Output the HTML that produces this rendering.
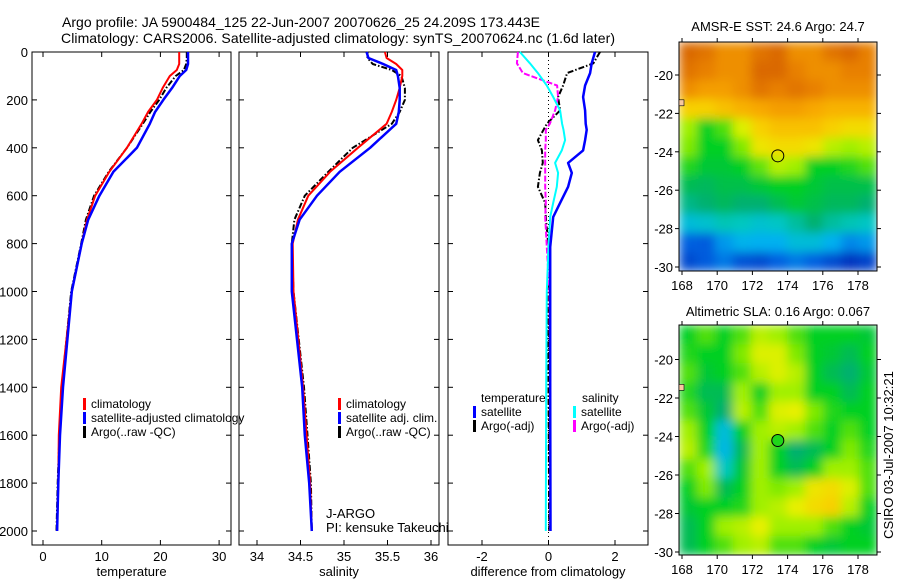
<!DOCTYPE html>
<html><head><meta charset="utf-8"><style>
html,body{margin:0;padding:0;background:#fff;}
svg{display:block;font-family:"Liberation Sans",sans-serif;}
</style></head><body>
<svg id="fig" width="900" height="580" viewBox="0 0 900 580" xmlns="http://www.w3.org/2000/svg">
<defs>
<filter id="blur" x="0" y="0" width="1" height="1"><feGaussianBlur stdDeviation="5" edgeMode="duplicate"/></filter>
<clipPath id="clip1"><rect x="679" y="42" width="198" height="229"/></clipPath>
<clipPath id="clip2"><rect x="679" y="325" width="198" height="230"/></clipPath>
</defs>
<text x="62" y="27" font-size="14" textLength="478">Argo profile: JA 5900484_125 22-Jun-2007 20070626_25 24.209S 173.443E</text>
<text x="61" y="43" font-size="14" textLength="554">Climatology: CARS2006. Satellite-adjusted climatology: synTS_20070624.nc (1.6d later)</text>
<g id="g"></g>
</svg>
<script>
// ---- profile data ----
const depths=[0,25,50,75,100,150,200,250,300,400,500,600,700,800,1000,1400,1600,1800,2000];
const tempClim=[23.2,23.2,23.2,22.8,21.6,20.4,19.4,17.9,16.8,14.3,11.3,8.9,7.5,6.6,4.9,3.1,2.7,2.6,2.4];
const tempSat=[24.7,24.7,24.7,24.4,23.3,22.0,20.5,19.1,18.2,16.0,12.0,9.6,7.7,6.6,4.9,3.4,2.9,2.6,2.4];
const tempArgo=[24.5,24.5,24.4,24.0,22.6,21.0,19.8,18.3,17.0,14.3,11.2,8.7,7.3,6.5,4.8,3.2,2.8,2.5,2.3];
const salClim=[35.47,35.49,35.6,35.67,35.67,35.64,35.6,35.55,35.49,35.16,34.84,34.59,34.47,34.41,34.42,34.53,34.57,34.61,34.63];
const salSat=[35.26,35.28,35.45,35.6,35.62,35.64,35.64,35.63,35.6,35.3,34.95,34.69,34.49,34.4,34.4,34.52,34.55,34.6,34.63];
const salArgo=[35.27,35.27,35.33,35.55,35.66,35.7,35.7,35.64,35.55,35.1,34.82,34.55,34.43,34.4,34.42,34.54,34.58,34.62,34.63];
const diffDepths=[0,47,88,140,188,244,300,325,368,411,463,505,563,630,689,814,1000,1400,2000];
const diffTempSat=[1.4,1.3,1.25,1.1,1.04,1.1,1.12,1.15,1.1,1.04,0.59,0.7,0.59,0.35,0.14,0.05,0.05,0.05,0.06];
const diffSalSat=[-0.86,-0.56,-0.32,-0.05,0.14,0.35,0.41,0.45,0.5,0.4,0.2,0.29,0.25,0.14,0.05,0.0,-0.05,-0.07,-0.08];
const diffTempArgo=[1.55,1.35,0.56,0.44,0.29,0.35,-0.05,-0.15,-0.32,-0.2,-0.17,-0.26,-0.32,-0.1,-0.08,0.0,-0.02,0.0,0.02];
const diffSalArgo=[-0.92,-0.95,-0.77,0.26,0.29,0.2,0.04,-0.08,-0.08,-0.1,-0.1,-0.1,-0.1,-0.08,-0.1,-0.05,0.03,0.05,0.05];
const depthTicks=[0,200,400,600,800,1000,1200,1400,1600,1800,2000];
const tempTicks=[0,10,20,30];
const salTicks=[34,34.5,35,35.5,36];
const salTickLabels=["34","34.5","35","35.5","36"];
const diffTicks=[-2,0,2];
// ---- map data (rows north->south, cols west->east) ----
const lonTicks=[168,170,172,174,176,178];
const latTicks=[-20,-22,-24,-26,-28,-30];
const sstGrid=[
[0.92,0.9,0.85,0.85,0.9,0.92,0.85,0.85,0.9,0.92,0.88],
[0.9,0.88,0.85,0.85,0.92,0.92,0.88,0.85,0.85,0.88,0.88],
[0.85,0.82,0.82,0.85,0.9,0.88,0.9,0.88,0.85,0.85,0.85],
[0.72,0.72,0.75,0.78,0.8,0.82,0.82,0.8,0.78,0.78,0.78],
[0.6,0.5,0.55,0.65,0.72,0.75,0.75,0.75,0.72,0.7,0.7],
[0.58,0.5,0.5,0.58,0.68,0.7,0.7,0.68,0.62,0.6,0.62],
[0.52,0.48,0.48,0.5,0.56,0.62,0.6,0.5,0.5,0.52,0.55],
[0.45,0.44,0.46,0.46,0.48,0.5,0.5,0.48,0.46,0.46,0.46],
[0.4,0.42,0.44,0.42,0.42,0.45,0.48,0.46,0.44,0.44,0.42],
[0.3,0.32,0.36,0.35,0.32,0.34,0.38,0.42,0.38,0.36,0.34],
[0.15,0.14,0.22,0.26,0.25,0.25,0.3,0.3,0.25,0.2,0.22],
[0.1,0.14,0.18,0.12,0.1,0.15,0.18,0.15,0.1,0.05,0.08]];
const slaGrid=[
[0.5,0.55,0.5,0.55,0.62,0.6,0.55,0.5,0.5,0.5,0.48],
[0.52,0.5,0.5,0.58,0.65,0.65,0.58,0.5,0.48,0.45,0.5],
[0.55,0.48,0.5,0.55,0.62,0.65,0.62,0.5,0.45,0.42,0.48],
[0.52,0.45,0.45,0.6,0.5,0.6,0.6,0.5,0.5,0.45,0.5],
[0.55,0.48,0.42,0.62,0.55,0.65,0.66,0.58,0.52,0.5,0.5],
[0.6,0.5,0.3,0.5,0.6,0.62,0.6,0.55,0.5,0.55,0.5],
[0.62,0.52,0.28,0.45,0.6,0.5,0.42,0.45,0.5,0.58,0.52],
[0.55,0.6,0.35,0.48,0.6,0.5,0.45,0.5,0.6,0.6,0.55],
[0.5,0.58,0.45,0.5,0.6,0.58,0.6,0.68,0.7,0.65,0.55],
[0.48,0.5,0.5,0.52,0.6,0.62,0.66,0.7,0.72,0.62,0.5],
[0.45,0.5,0.6,0.62,0.66,0.6,0.6,0.6,0.55,0.5,0.48],
[0.45,0.5,0.55,0.6,0.62,0.55,0.55,0.5,0.48,0.5,0.5]];
const argoLon=173.443, argoLat=-24.209;

const NS="http://www.w3.org/2000/svg";
const G=document.getElementById('g');
function el(t,a,p){const e=document.createElementNS(NS,t);for(const k in a)e.setAttribute(k,a[k]);(p||G).appendChild(e);return e;}
const yD=d=>52+d*0.2395;
const xT=v=>43+v*5.87;
const xS=v=>257+(v-34)*87;
const xDf=v=>548.5+v*33.25;

function frame(x0,x1,name,xs,xticks,xlabels,xtitle,showY){
  const r=el('rect',{x:x0,y:52,width:x1-x0,height:493,fill:'none',stroke:'#000','stroke-width':1});
  
  
  depthTicks.forEach(d=>{
    const y=yD(d);
    el('line',{x1:x0,x2:x0+5,y1:y,y2:y,stroke:'#000'});
    el('line',{x1:x1-5,x2:x1,y1:y,y2:y,stroke:'#000'});
    if(showY){const t=el('text',{x:x0-4,y:y+5,'font-size':13,'text-anchor':'end'});t.textContent=d;
      
      }
  });
  xticks.forEach((v,i)=>{
    const x=xs(v);
    el('line',{x1:x,x2:x,y1:52,y2:57,stroke:'#000'});
    el('line',{x1:x,x2:x,y1:540,y2:545,stroke:'#000'});
    const t=el('text',{x:x,y:561,'font-size':13,'text-anchor':'middle'});t.textContent=xlabels[i];
    
    
  });
  const tt=el('text',{x:(x0+x1)/2,y:576,'font-size':13,'text-anchor':'middle'});tt.textContent=xtitle;
  
  
}
function line(xs,vals,ds,color,w,dash,name){
  const pts=vals.map((v,i)=>xs(v).toFixed(1)+','+yD(ds[i]).toFixed(1)).join(' ');
  const p=el('polyline',{points:pts,fill:'none',stroke:color,'stroke-width':w,'stroke-linejoin':'round'});
  if(dash)p.setAttribute('stroke-dasharray',dash);
  
  
}
function legend(x,y,color,label,name){
  el('rect',{x:x,y:y-10,width:3,height:12,fill:color});
  const t=el('text',{x:x+8,y:y,'font-size':12});t.textContent=label;
  
  
}
// panel 1
frame(32,231,'temperature-panel',xT,tempTicks,tempTicks.map(String),'temperature',true);
line(xT,tempArgo,depths,'#000',2,'6,2,1.5,2','temp-argo-line');
line(xT,tempClim,depths,'#ff0000',2,null,'temp-climatology-line');
line(xT,tempSat,depths,'#0000ff',2.5,null,'temp-satellite-line');
legend(83,408,'#ff0000','climatology','legend-climatology');
legend(83,422,'#0000ff','satellite-adjusted climatology','legend-satellite-adjusted');
legend(83,436,'#000','Argo(..raw -QC)','legend-argo-raw');
// panel 2
frame(239,439,'salinity-panel',xS,salTicks,salTickLabels,'salinity',false);
line(xS,salArgo,depths,'#000',2,'6,2,1.5,2','sal-argo-line');
line(xS,salClim,depths,'#ff0000',2,null,'sal-climatology-line');
line(xS,salSat,depths,'#0000ff',2.5,null,'sal-satellite-line');
legend(338,408,'#ff0000','climatology','legend2-climatology');
legend(338,422,'#0000ff','satellite adj. clim.','legend2-satellite');
legend(338,436,'#000','Argo(..raw -QC)','legend2-argo');
{const a=el('text',{x:326,y:518,'font-size':13});a.textContent='J-ARGO';


const b=el('text',{x:326,y:532,'font-size':13});b.textContent='PI: kensuke Takeuchi';

}
// panel 3
frame(448,648,'difference-panel',xDf,diffTicks,diffTicks.map(String),'difference from climatology',false);
el('line',{x1:xDf(0),x2:xDf(0),y1:52,y2:545,stroke:'#000','stroke-dasharray':'1,3'});
line(xDf,diffTempArgo,diffDepths,'#000',2,'6,2,1.5,2','diff-temp-argo-line');
line(xDf,diffSalArgo,diffDepths,'#ff00ff',2,'6,2','diff-sal-argo-line');
line(xDf,diffSalSat,diffDepths,'#00ffff',2,null,'diff-sal-satellite-line');
line(xDf,diffTempSat,diffDepths,'#0000ff',2.5,null,'diff-temp-satellite-line');
{const t=el('text',{x:481,y:402,'font-size':12});t.textContent='temperature';


const s=el('text',{x:582,y:402,'font-size':12});s.textContent='salinity';

}
legend(473,416,'#0000ff','satellite','legend3-temp-satellite');
legend(473,430,'#000','Argo(-adj)','legend3-temp-argo');
legend(573,416,'#00ffff','satellite','legend3-sal-satellite');
legend(573,430,'#ff00ff','Argo(-adj)','legend3-sal-argo');

// ---- maps ----
const stops=[[0,[0,32,176]],[0.15,[0,96,224]],[0.25,[0,176,240]],[0.35,[0,200,192]],[0.42,[0,176,112]],[0.5,[0,208,32]],[0.6,[160,240,0]],[0.66,[232,240,0]],[0.72,[248,208,0]],[0.8,[248,168,0]],[0.88,[232,128,0]],[0.95,[208,88,0]],[1,[190,70,0]]];
function cmap(t){for(let i=1;i<stops.length;i++){if(t<=stops[i][0]){const a=stops[i-1],b=stops[i];const f=(t-a[0])/(b[0]-a[0]);const c=a[1].map((v,k)=>Math.round(v+(b[1][k]-v)*f));return 'rgb('+c.join(',')+')';}}return 'rgb(190,70,0)';}
const xL=lon=>682+(lon-168)*17.6;
function drawMap(grid,top,bottom,yLat,clipId,name,title,titleY,filled){
  const gc=el('g',{'clip-path':'url(#'+clipId+')'});
  const gb=el('g',{filter:'url(#blur)'},gc);
  const nr=grid.length,nc=grid[0].length,cw=198/nc,ch=(bottom-top)/nr;
  grid.forEach((row,i)=>row.forEach((v,j)=>{
    const r=el('rect',{x:679+j*cw,y:top+i*ch,width:cw+0.5,height:ch+0.5,fill:cmap(v)},gb);
    
    
  }));
  el('rect',{x:679,y:top,width:198,height:bottom-top,fill:'none',stroke:'#000'});
  lonTicks.forEach(lo=>{const x=xL(lo);
    el('line',{x1:x,x2:x,y1:top-4,y2:top,stroke:'#000'});
    el('line',{x1:x,x2:x,y1:bottom,y2:bottom+4,stroke:'#000'});
    const t=el('text',{x:x,y:bottom+19,'font-size':13,'text-anchor':'middle'});t.textContent=lo;
    
    });
  latTicks.forEach(la=>{const y=yLat(la);
    el('line',{x1:675,x2:679,y1:y,y2:y,stroke:'#000'});
    el('line',{x1:877,x2:881,y1:y,y2:y,stroke:'#000'});
    const t=el('text',{x:673,y:y+5,'font-size':13,'text-anchor':'end'});t.textContent=la;
    
    });
  const c=el('circle',{cx:xL(argoLon),cy:yLat(argoLat),r:6,fill:filled?cmap(0.52):'none',stroke:'#000'});
  
  
  el('rect',{x:679,y:yLat(-21.5)-4,width:5,height:6,fill:'#f8c8a0',stroke:'#000','stroke-width':0.6});
  const tt=el('text',{x:778,y:titleY,'font-size':13,'text-anchor':'middle'});tt.textContent=title;
  
  
}
drawMap(sstGrid,42,271,la=>75+(-20-la)*19.2,'clip1','sst-map','AMSR-E SST: 24.6 Argo: 24.7',31,false);
drawMap(slaGrid,325,555,la=>359.5+(-20-la)*19.25,'clip2','sla-map','Altimetric SLA: 0.16 Argo: 0.067',316,true);
{const t=el('text',{x:0,y:0,'font-size':13,'text-anchor':'middle',transform:'translate(893,455) rotate(-90)'});
t.textContent='CSIRO 03-Jul-2007 10:32:21';

}
</script>
</body></html>
